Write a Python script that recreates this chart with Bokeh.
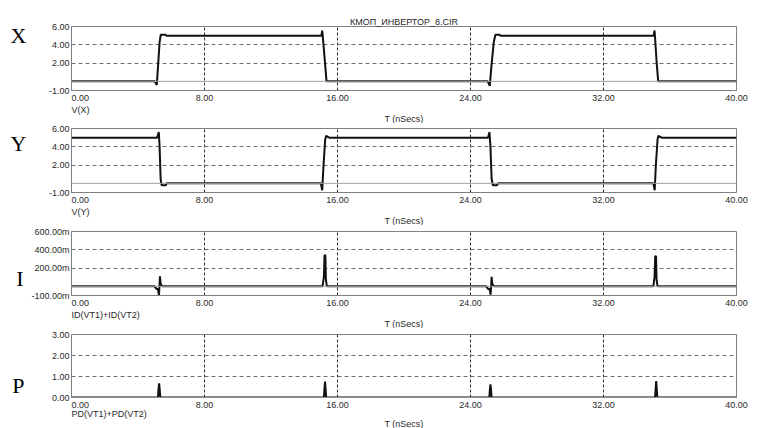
from bokeh.plotting import figure
from bokeh.layouts import column
from bokeh.models import FixedTicker, Range1d, Span, Title, LinearAxis
from bokeh.embed import file_html
from bokeh.resources import INLINE

# ---------------- data ----------------
TITLE = "КМОП_ИНВЕРТОР_8.CIR"
X_LABEL = "T (nSecs)"
x_ticks = [0, 8, 16, 24, 32, 40]
x_tick_labels = ["0.00", "8.00", "16.00", "24.00", "32.00", "40.00"]
x_grid = [8, 16, 24, 32]

letters = ["X", "Y", "I", "P"]
letter_y = [5.07, 4.4, 0.086, 0.57]
names = ["V(X)", "V(Y)", "ID(VT1)+ID(VT2)", "PD(VT1)+PD(VT2)"]
y_lo = [-1, -1, -0.1, 0]
y_hi = [6, 6, 0.6, 3]
y_ticks = [[-1, 2, 4, 6], [-1, 2, 4, 6], [-0.1, 0.2, 0.4, 0.6], [0, 1, 2, 3]]
y_tick_labels = [["-1.00", "2.00", "4.00", "6.00"],
                 ["-1.00", "2.00", "4.00", "6.00"],
                 ["-100.00m", "200.00m", "400.00m", "600.00m"],
                 ["0.00", "1.00", "2.00", "3.00"]]
y_grid = [[2, 4], [2, 4], [0.2, 0.4], [1, 2]]
zero_level = 0

# V(X)
vx_t = [0, 5.01, 5.13, 5.2, 5.3, 5.37, 5.66, 5.72, 15.03, 15.08, 15.12, 15.25, 15.34,
        25.04, 25.16, 25.25, 25.4, 25.5, 25.75, 25.8, 35.02, 35.07, 35.1, 35.2, 35.29, 40]
vx_v = [0, 0, -0.4, 1.5, 4.3, 5.1, 5.1, 5.0, 5.0, 5.55, 4.8, 2.0, 0.0,
        0.0, -0.5, 1.5, 4.3, 5.1, 5.1, 5.0, 5.0, 5.56, 4.8, 2.0, 0.0, 0.0]
# V(Y)
vy_t = [0, 5.15, 5.25, 5.3, 5.36, 5.42, 5.68, 5.72, 15.0, 15.08, 15.16, 15.26, 15.32, 15.5,
        25.05, 25.14, 25.2, 25.27, 25.34, 25.6, 25.65, 35.0, 35.08, 35.15, 35.25, 35.3, 35.5, 40]
vy_v = [5.0, 5.0, 5.6, 4.0, 0.5, -0.2, -0.2, 0.0, 0.0, -0.75, 2.0, 4.8, 5.2, 5.0,
        5.0, 5.6, 4.0, 0.5, -0.2, -0.2, 0.0, 0.0, -0.75, 2.0, 4.8, 5.2, 5.0, 5.0]
# ID(VT1)+ID(VT2)
id_t = [0, 5.0, 5.12, 5.2, 5.26, 5.29, 5.32, 5.36, 5.45,
        15.1, 15.18, 15.22, 15.27, 15.3, 15.36,
        24.95, 25.07, 25.15, 25.21, 25.24, 25.27, 25.31, 25.4,
        35.0, 35.07, 35.11, 35.16, 35.19, 35.25, 40]
id_v = [0, 0, -0.03, -0.03, -0.1, 0.0, 0.11, 0.03, 0,
        0, 0.1, 0.34, 0.34, 0.08, 0,
        0, -0.03, -0.03, -0.09, 0.0, 0.105, 0.03, 0,
        0, 0.1, 0.33, 0.33, 0.08, 0, 0]
# PD(VT1)+PD(VT2)
pd_t = [0, 5.2, 5.24, 5.27, 5.3, 5.34, 15.18, 15.22, 15.25, 15.28, 15.32,
        25.13, 25.17, 25.2, 25.23, 25.27, 35.1, 35.14, 35.17, 35.2, 35.24, 40]
pd_v = [0, 0, 0.45, 0.67, 0.45, 0, 0, 0.45, 0.76, 0.45, 0,
        0, 0.4, 0.62, 0.4, 0, 0, 0.45, 0.78, 0.45, 0, 0]

series_t = [vx_t, vy_t, id_t, pd_t]
series_v = [vx_v, vy_v, id_v, pd_v]

# ---------------- style ----------------
FONT = "Liberation Sans"
SERIF = "Liberation Serif"
TXT = "#2a2a2a"
FS = "9px"
heights = [123, 102, 103, 100]
tops = [26, 5, 6, 6]
bottoms = [33, 33, 33, 31]
name_valign = ["middle", "middle", "middle", "top"]
name_standoff = [-3, -3, -3, -8]
t_valign = ["middle", "middle", "middle", "bottom"]
t_standoff = [-3, -3, -3, 0]
letter_standoff = [19, 19, 5, 24]
NB = "\u00a0"

figs = []
for i in range(4):
    p = figure(width=766, height=heights[i], x_range=Range1d(x_ticks[0], x_ticks[-1]),
               y_range=Range1d(y_lo[i], y_hi[i]), output_backend="svg",
               toolbar_location=None, min_border_left=71, min_border_right=30,
               min_border_top=tops[i], min_border_bottom=bottoms[i],
               background_fill_color="white", border_fill_color="white")
    p.outline_line_color = "#808080"
    p.outline_line_width = 1

    # axes
    p.xaxis.ticker = FixedTicker(ticks=x_ticks)
    ov = {t: l for t, l in zip(x_ticks, x_tick_labels)}
    ov[x_ticks[0]] = NB * 7 + x_tick_labels[0]
    p.xaxis.major_label_overrides = ov
    p.yaxis.ticker = FixedTicker(ticks=y_ticks[i])
    p.yaxis.major_label_overrides = {t: l for t, l in zip(y_ticks[i], y_tick_labels[i])}
    for ax in (p.xaxis, p.yaxis):
        ax.axis_line_color = "#808080"
        ax.major_tick_line_color = None
        ax.minor_tick_line_color = None
        ax.major_tick_out = 0
        ax.major_tick_in = 0
        ax.major_label_standoff = 2
        ax.major_label_text_font = FONT
        ax.major_label_text_font_size = FS
        ax.major_label_text_color = TXT

    # big panel letter as an outer left axis label
    la = LinearAxis(ticker=FixedTicker(ticks=[letter_y[i]]),
                    major_label_overrides={letter_y[i]: letters[i]},
                    axis_line_color=None, major_tick_line_color=None,
                    minor_tick_line_color=None, major_tick_out=0, major_tick_in=0,
                    major_label_standoff=letter_standoff[i],
                    major_label_text_font=SERIF, major_label_text_font_size="22px",
                    major_label_text_color="#000000")
    p.add_layout(la, "left")

    # grids
    p.xgrid.ticker = FixedTicker(ticks=x_grid)
    p.xgrid.grid_line_color = "#303030"
    p.xgrid.grid_line_dash = "3 2"
    p.xgrid.grid_line_width = 1
    p.ygrid.ticker = FixedTicker(ticks=y_grid[i])
    p.ygrid.grid_line_color = "#707070"
    p.ygrid.grid_line_dash = "4 3"
    p.ygrid.grid_line_width = 1
    p.add_layout(Span(location=zero_level, dimension="width", line_color="#a0a0a0", line_width=1))

    # trace
    p.line(series_t[i], series_v[i], line_color="#111111", line_width=2)

    # texts below the frame
    p.add_layout(Title(text=names[i], align="left", vertical_align=name_valign[i],
                       standoff=name_standoff[i], offset=0,
                       text_font=FONT, text_font_size=FS, text_font_style="normal",
                       text_color=TXT), "below")
    p.add_layout(Title(text=X_LABEL, align="center", vertical_align=t_valign[i],
                       standoff=t_standoff[i], offset=0,
                       text_font=FONT, text_font_size=FS, text_font_style="normal",
                       text_color=TXT), "below")
    if i == 0:
        p.title.text = TITLE
        p.title.align = "center"
        p.title.standoff = 0
        p.title.text_font = FONT
        p.title.text_font_size = FS
        p.title.text_font_style = "normal"
        p.title.text_color = TXT
    figs.append(p)

layout = column(*figs, spacing=0)
open("out.html", "w").write(file_html(layout, INLINE))
